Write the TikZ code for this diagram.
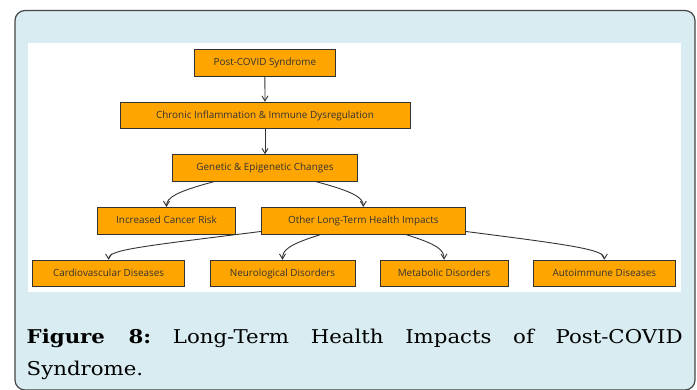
\documentclass[tikz,border=0pt]{standalone}
\usepackage{fontspec}
\usepackage{xcolor}
\usepackage{tikz}
\usetikzlibrary{positioning,calc,arrows.meta}
\newfontfamily\boxfont{Open Sans}
\newfontfamily\capfont[FakeStretch=1.12]{DejaVu Serif}
\definecolor{panelblue}{HTML}{D8ECF1}
\definecolor{boxorange}{HTML}{FFA500}
\definecolor{inkgray}{HTML}{333333}
\frenchspacing

\begin{document}
\begin{tikzpicture}[x=1pt, y=-1pt,
    box/.style={draw=inkgray, line width=0.8pt, fill=boxorange, text=inkgray,
        font=\boxfont\fontsize{9.9}{11}\selectfont, inner sep=0pt, minimum height=26.7pt,
        text height=7.2pt, text depth=2pt},
    edge/.style={draw=inkgray, line width=0.9pt, -{Straight Barb[length=5pt, width=6pt]}}]
    \useasboundingbox (0,0) rectangle (697,389);

    % Panel
    \draw[draw=inkgray!90, line width=1.2pt, fill=panelblue, rounded corners=10pt]
        (15,10.5) rectangle (695,390);
    \fill[white] (28,43) rectangle (680.5,291.7);

    % Boxes
    \node[box, minimum width=141.7pt] (post) at (264.9,62.7) {Post-COVID Syndrome};
    \node[box, minimum width=290pt] (chronic) at (265,115.5) {Chronic Inflammation \& Immune Dysregulation};
    \node[box, minimum width=185.4pt] (genetic) at (265,168) {Genetic \& Epigenetic Changes};
    \node[box, minimum width=138.4pt] (cancer) at (166.5,220.7) {Increased Cancer Risk};
    \node[box, minimum width=203.3pt] (other) at (363.3,220.7) {Other Long-Term Health Impacts};
    \node[box, minimum width=152pt] (cardio) at (108.6,273.5) {Cardiovascular Diseases};
    \node[box, minimum width=145pt] (neuro) at (282.5,273.5) {Neurological Disorders};
    \node[box, minimum width=128pt] (metabolic) at (444,273.5) {Metabolic Disorders};
    \node[box, minimum width=142.6pt] (autoimmune) at (604.3,273.5) {Autoimmune Diseases};

    % Connectors
    \draw[edge] (post.south) -- (chronic.north);
    \draw[edge] (chronic.south) -- (genetic.north);
    \draw[edge] (genetic.195) .. controls +(-38,10) and +(0,-9) .. (cancer.north);
    \draw[edge] (genetic.345) .. controls +(38,10) and +(0,-9) .. (other.north);
    \draw[edge] (other.186) .. controls +(-120,15) and +(0,-10) .. (cardio.north);
    \draw[edge] (other.198) .. controls +(-32,10) and +(0,-10) .. (neuro.north);
    \draw[edge] (other.342) .. controls +(32,10) and +(0,-10) .. (metabolic.north);
    \draw[edge] (other.354) .. controls +(110,14) and +(0,-10) .. (autoimmune.north);

    % Caption
    \node[anchor=base west, inner sep=0pt, text width=656pt, align=justify,
        font=\capfont\fontsize{19}{32}\selectfont, text=black] (caption) at (26.5,343)
        {\textbf{Figure 8:} Long-Term Health Impacts of Post-COVID\linebreak Syndrome.};
\end{tikzpicture}
\end{document}
